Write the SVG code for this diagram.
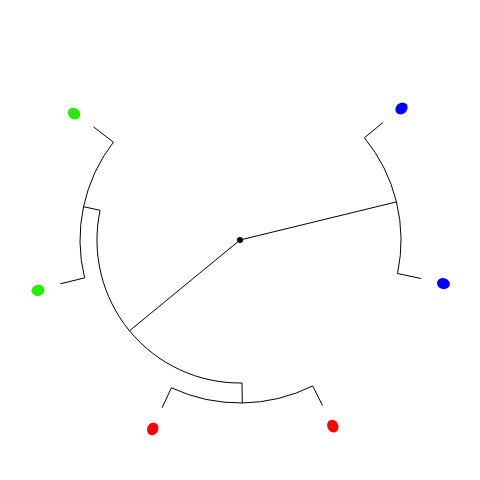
<svg xmlns="http://www.w3.org/2000/svg" width="480" height="480" viewBox="0 0 480 480">
<style>
.e{fill:none;stroke:#000;stroke-width:1}
.g{fill:#22ee00}
.r{fill:#ff0000}
.b{fill:#0000ff}
</style>
<rect width="480" height="480" fill="#fff"/>
<g id="connectors" class="e">
<line x1="240" y1="240" x2="129.5" y2="330.8"/>
<line x1="240" y1="240" x2="396.4" y2="201.9"/>
<path d="M364.4,137.8 A161,161 0 0 1 397.5,273.5"/>
<line x1="364.4" y1="137.8" x2="382.9" y2="122.6"/>
<line x1="397.5" y1="273.5" x2="420.9" y2="278.5"/>
<path d="M242,383 A143,143 0 0 1 100.1,210.3"/>
<line x1="242" y1="383" x2="242.3" y2="403"/>
<line x1="100.1" y1="210.3" x2="83.5" y2="206.7"/>
<path d="M312.7,385.9 A163,163 0 0 1 171.4,387.8"/>
<line x1="312.7" y1="385.9" x2="322.5" y2="405.6"/>
<line x1="171.4" y1="387.8" x2="162.1" y2="407.8"/>
<path d="M84.6,277.9 A160,160 0 0 1 113.4,142.2"/>
<line x1="84.6" y1="277.9" x2="60.3" y2="283.8"/>
<line x1="113.4" y1="142.2" x2="93.6" y2="126.9"/>
</g>
<g id="root"><circle cx="240" cy="240" r="3" fill="#000"/></g>
<g id="leaf-blue1"><ellipse class="b" cx="401.5" cy="108.5" rx="6.5" ry="5.5" transform="rotate(-39.4 401.5 108.5)"/></g>
<g id="leaf-blue2"><ellipse class="b" cx="443.4" cy="283.6" rx="6.5" ry="5.5" transform="rotate(12 443.4 283.6)"/></g>
<g id="leaf-red2"><ellipse class="r" cx="332.8" cy="426.1" rx="6.5" ry="5.5" transform="rotate(63.5 332.8 426.1)"/></g>
<g id="leaf-red1"><ellipse class="r" cx="152.7" cy="428.9" rx="6.5" ry="5.5" transform="rotate(114.9 152.7 428.9)"/></g>
<g id="leaf-green2"><ellipse class="g" cx="38" cy="290.3" rx="6.5" ry="5.5" transform="rotate(166.3 38 290.3)"/></g>
<g id="leaf-green1"><ellipse class="g" cx="74" cy="113.6" rx="6.5" ry="5.5" transform="rotate(217.7 74 113.6)"/></g>
</svg>
